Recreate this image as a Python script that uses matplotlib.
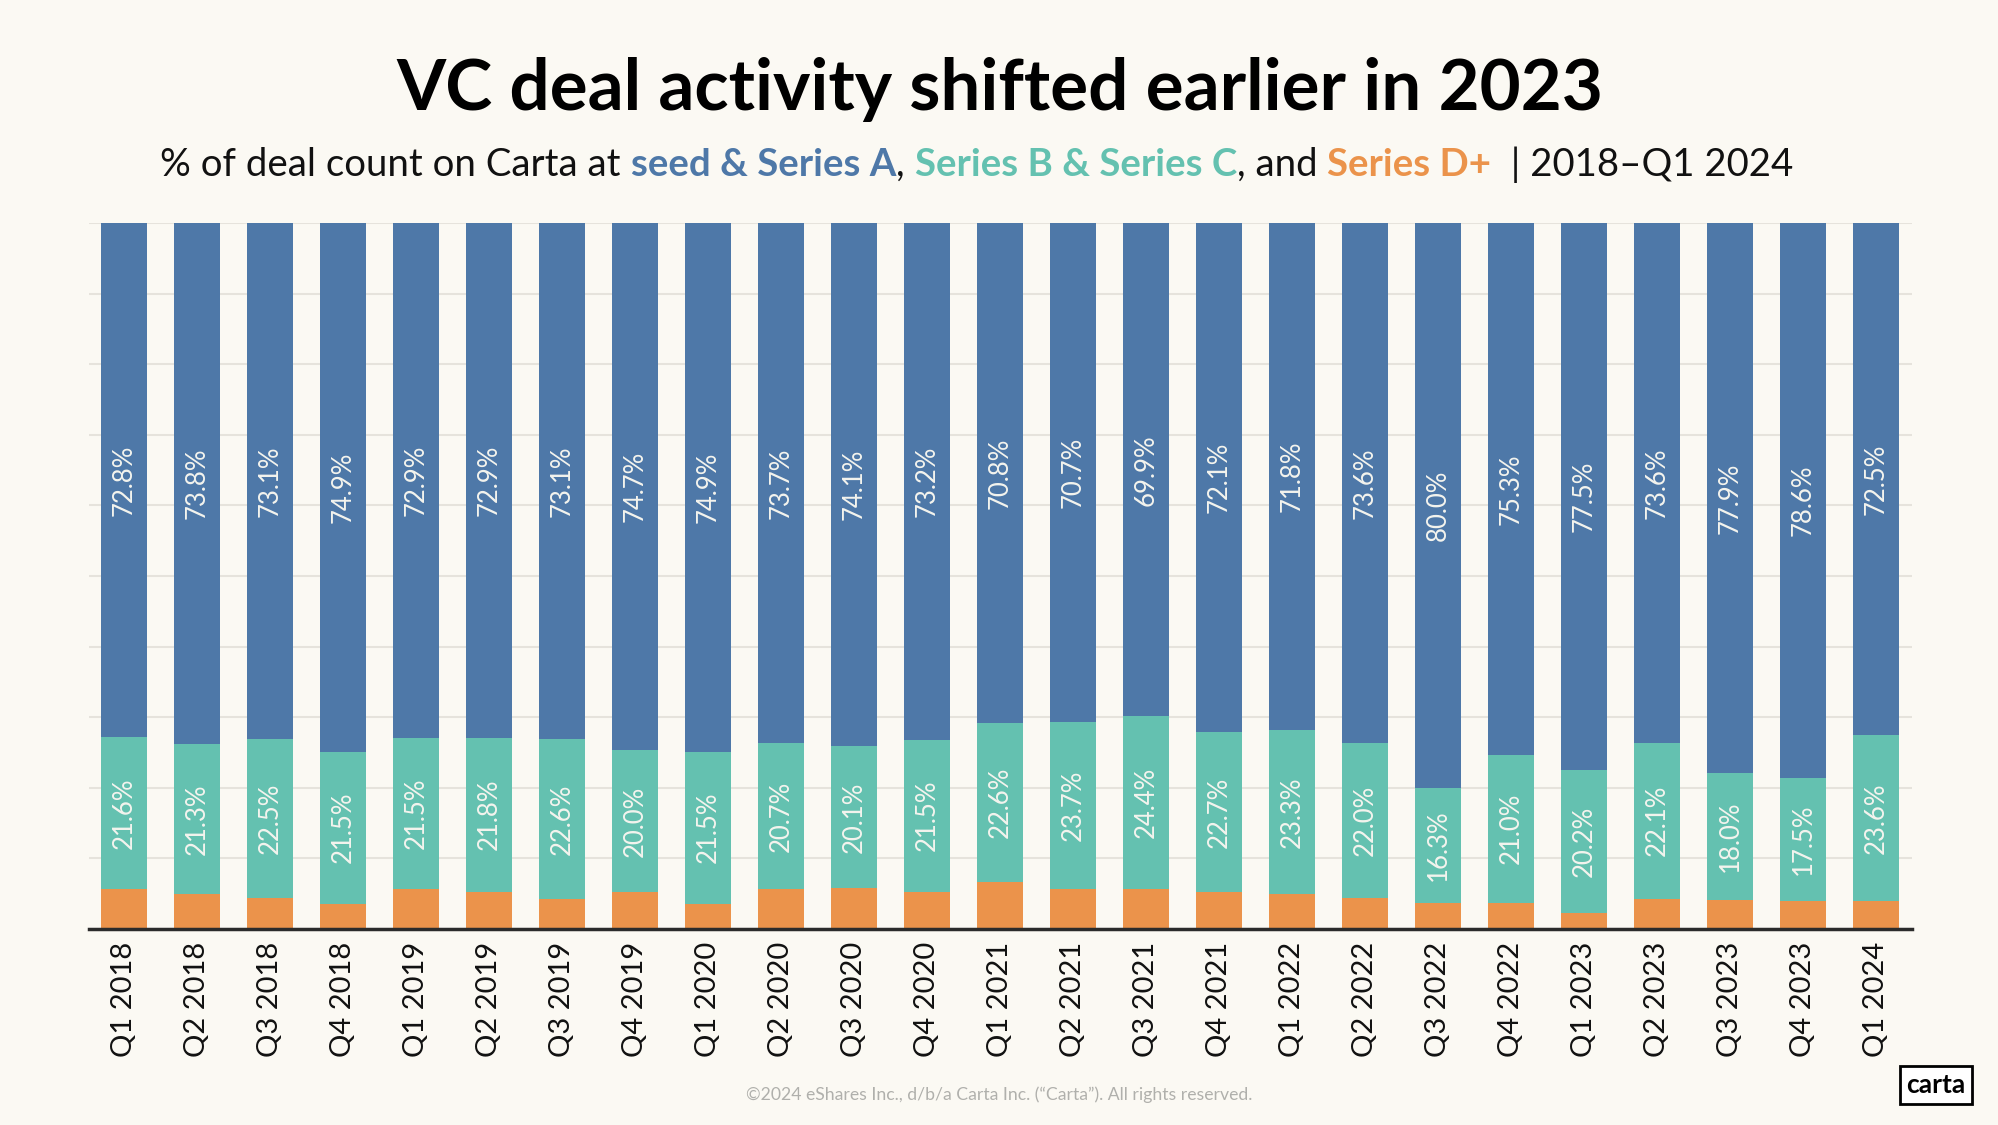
import matplotlib
matplotlib.use("Agg")
import matplotlib.pyplot as plt
import numpy as np

# Data (% of deal count)
quarters = ["Q1 2018", "Q2 2018", "Q3 2018", "Q4 2018",
            "Q1 2019", "Q2 2019", "Q3 2019", "Q4 2019",
            "Q1 2020", "Q2 2020", "Q3 2020", "Q4 2020",
            "Q1 2021", "Q2 2021", "Q3 2021", "Q4 2021",
            "Q1 2022", "Q2 2022", "Q3 2022", "Q4 2022",
            "Q1 2023", "Q2 2023", "Q3 2023", "Q4 2023",
            "Q1 2024"]
seed_a = [72.8, 73.8, 73.1, 74.9, 72.9, 72.9, 73.1, 74.7, 74.9, 73.7, 74.1, 73.2,
          70.8, 70.7, 69.9, 72.1, 71.8, 73.6, 80.0, 75.3, 77.5, 73.6, 77.9, 78.6, 72.5]
series_bc = [21.6, 21.3, 22.5, 21.5, 21.5, 21.8, 22.6, 20.0, 21.5, 20.7, 20.1, 21.5,
             22.6, 23.7, 24.4, 22.7, 23.3, 22.0, 16.3, 21.0, 20.2, 22.1, 18.0, 17.5, 23.6]
series_d = [5.6, 4.9, 4.4, 3.6, 5.6, 5.3, 4.3, 5.3, 3.6, 5.6, 5.8, 5.3,
            6.6, 5.6, 5.7, 5.2, 4.9, 4.4, 3.7, 3.7, 2.3, 4.3, 4.1, 3.9, 3.9]

BG = "#FBF9F3"
BLUE = "#4E78A8"
TEAL = "#64C1B0"
ORANGE = "#EB934B"
FONT = ["Lato", "DejaVu Sans"]

plt.rcParams["font.family"] = FONT

W, H = 1999, 1125
fig = plt.figure(figsize=(W / 100, H / 100), dpi=100, facecolor=BG)
ax = fig.add_axes([89 / W, 1 - 929 / H, (1912 - 89) / W, (929 - 223) / H])
ax.set_facecolor(BG)

x = np.arange(len(quarters))
d = np.array(series_d)
bc = np.array(series_bc)
a = np.array(seed_a)
width = 0.63

ax.bar(x, d, width, color=ORANGE, zorder=3)
ax.bar(x, bc, width, bottom=d, color=TEAL, zorder=3)
ax.bar(x, a, width, bottom=d + bc, color=BLUE, zorder=3)

# labels inside bars
for i in range(len(quarters)):
    ax.text(x[i], d[i] + bc[i] / 2, f"{bc[i]:.1f}%", rotation=90, ha="center", va="center",
            color="#F4F4EE", fontsize=18.5, zorder=4)
    ax.text(x[i], d[i] + bc[i] + a[i] / 2, f"{a[i]:.1f}%", rotation=90, ha="center", va="center",
            color="#F4F4EE", fontsize=18.5, zorder=4)

ax.set_xlim(-0.48, len(quarters) - 0.51)
ax.set_ylim(0, 100)
ax.set_yticks(np.arange(0, 101, 10))
ax.yaxis.grid(True, color="#E6E3DC", linewidth=1.5, zorder=0)
ax.tick_params(axis="y", left=False, labelleft=False)
ax.set_xticks(x)
ax.set_xticklabels(quarters, rotation=90, fontsize=21, color="#111111")
ax.tick_params(axis="x", length=0, pad=9)
for s in ["top", "right", "left"]:
    ax.spines[s].set_visible(False)
ax.spines["bottom"].set_color("#2B2B2B")
ax.spines["bottom"].set_linewidth(2.5)
ax.spines["bottom"].set_zorder(5)

# title
fig.text(0.5, 1 - 110 / H, "VC deal activity shifted earlier in 2023", ha="center", va="baseline",
         fontsize=51, fontweight="bold", color="black")

# subtitle built from coloured pieces
pieces = [
    ("% of deal count on Carta at ", "#111111", "normal"),
    ("seed & Series A", BLUE, "bold"),
    (", ", "#111111", "normal"),
    ("Series B & Series C", TEAL, "bold"),
    (", and ", "#111111", "normal"),
    ("Series D+", ORANGE, "bold"),
    ("  | 2018–Q1 2024", "#111111", "normal"),
]
renderer = fig.canvas.get_renderer()
sub_y = 1 - 176 / H
sub_size = 27.6
sub_center = 977


def text_width(s, weight):
    # measure with guard chars so edge spaces count
    t1 = fig.text(0, 0, "x" + s + "x", fontsize=sub_size, fontweight=weight)
    t2 = fig.text(0, 0, "xx", fontsize=sub_size, fontweight=weight)
    w = t1.get_window_extent(renderer).width - t2.get_window_extent(renderer).width
    t1.remove()
    t2.remove()
    return w


widths = [text_width(s, wt) for s, c, wt in pieces]
total = sum(widths)
cur = sub_center - total / 2
for (s, c, wt), w in zip(pieces, widths):
    fig.text(cur / W, sub_y, s, ha="left", va="baseline",
             fontsize=sub_size, fontweight=wt, color=c)
    cur += w

# footer
fig.text(0.5, 1 - 1100 / H, "©2024 eShares Inc., d/b/a Carta Inc. (“Carta”). All rights reserved.",
         ha="center", va="baseline", fontsize=12.7, color="#B0B0AC")

# carta logo box
fig.text(1936 / W, 1 - 1085 / H, "carta", ha="center", va="center", fontsize=19, fontweight="bold",
         color="black",
         bbox=dict(boxstyle="square,pad=0.25", facecolor="white", edgecolor="black", linewidth=2))

fig.savefig("out.png", dpi=100, facecolor=BG)
